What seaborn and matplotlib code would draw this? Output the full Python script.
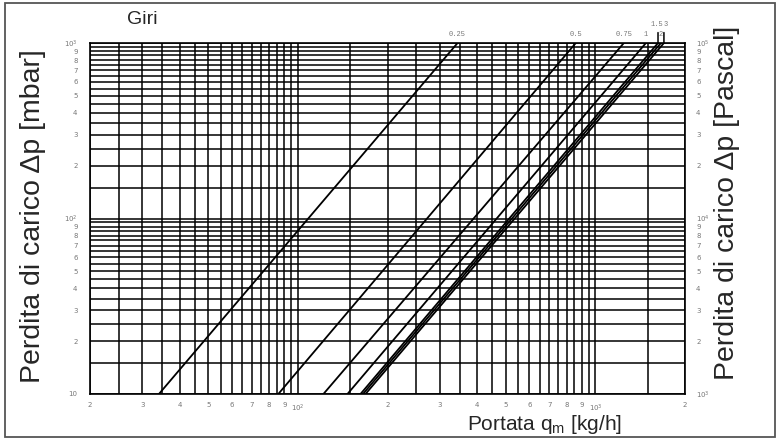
import numpy as np
import pandas as pd
import matplotlib
matplotlib.use('Agg')
import matplotlib.pyplot as plt
import seaborn as sns
from matplotlib.ticker import NullFormatter

sns.set_style('white')
plt.rcParams['font.family'] = ['Liberation Sans', 'DejaVu Sans']

# curves: flow rate read where each curve crosses 10 and 1000 mbar
giri = ['0.25', '0.5', '0.75', '1', '1.5', '2', '3']
q_at_10 = [34.1, 85.9, 121.8, 146.7, 162.3, 165.4, 168.7]
q_at_1000 = [344, 859, 1246, 1478, 1623, 1660, 1699]
dp_ends = [10, 1000]

# grid and tick labels
grid_x = list(range(20, 101, 5)) + [150] + list(range(200, 1001, 50)) + [1500, 2000]
grid_y = list(range(10, 101, 5)) + [150] + list(range(200, 1001, 50))
xtick_pos = [20, 30, 40, 50, 60, 70, 80, 90, 100, 200, 300, 400, 500, 600, 700, 800, 900, 1000, 2000]
xtick_lab = ['2', '3', '4', '5', '6', '7', '8', '9', '$10^2$', '2', '3', '4', '5', '6', '7', '8', '9', '$10^3$', '2']
ytick_pos = [10, 20, 30, 40, 50, 60, 70, 80, 90, 100, 200, 300, 400, 500, 600, 700, 800, 900, 1000]
ytick_lab = ['10', '2', '3', '4', '5', '6', '7', '8', '9', '$10^2$', '2', '3', '4', '5', '6', '7', '8', '9', '$10^3$']
ytick_pa_pos = [v * 100 for v in ytick_pos]
ytick_pa_lab = ['$10^3$', '2', '3', '4', '5', '6', '7', '8', '9', '$10^4$', '2', '3', '4', '5', '6', '7', '8', '9', '$10^5$']

rows = []
for g, a, b in zip(giri, q_at_10, q_at_1000):
    rows.append({'giri': g, 'q': a, 'dp': dp_ends[0]})
    rows.append({'giri': g, 'q': b, 'dp': dp_ends[1]})
df = pd.DataFrame(rows)

fig = plt.figure(figsize=(7.79, 4.41), dpi=100)
ax = fig.add_axes([90 / 779, 47 / 441, 595 / 779, 351 / 441])

sns.lineplot(data=df, x='q', y='dp', hue='giri', palette=['black'] * len(giri),
             legend=False, ax=ax, lw=1.3, sort=False, zorder=3)
ax.set_xscale('log')
ax.set_yscale('log')
ax.set_xlim(20, 2000)
ax.set_ylim(10, 1000)

tick_font = dict(fontsize=5, color='#777777', family='DejaVu Sans')
ax.set_xticks(grid_x, minor=True)
ax.set_yticks(grid_y, minor=True)
ax.set_xticks(xtick_pos)
ax.set_xticklabels(xtick_lab, **tick_font)
ax.set_yticks(ytick_pos)
ax.set_yticklabels(ytick_lab, **tick_font)
ax.xaxis.set_minor_formatter(NullFormatter())
ax.yaxis.set_minor_formatter(NullFormatter())
ax.grid(True, which='both', color='black', lw=1.1)
ax.tick_params(which='both', length=0)
ax.tick_params(axis='x', pad=6)
ax.tick_params(axis='y', pad=9)
ax.set_xlabel('')
ax.set_ylabel('')
for s in ax.spines.values():
    s.set_color('black')
    s.set_linewidth(1.2)

ax2 = ax.twinx()
ax2.set_yscale('log')
ax2.set_ylim(dp_ends[0] * 100, dp_ends[1] * 100)
ax2.set_yticks(ytick_pa_pos)
ax2.set_yticklabels(ytick_pa_lab, **tick_font)
ax2.yaxis.set_minor_formatter(NullFormatter())
ax2.tick_params(which='both', length=0, pad=8)
ax2.grid(False)
for s in ax2.spines.values():
    s.set_visible(False)

# curve labels above the top edge
lab_font = dict(fontsize=5, color='#777777', family='Liberation Mono', ha='center')
for g, q in zip(giri, q_at_1000):
    if g in ('1.5', '3'):
        ax.annotate('', xy=(q, dp_ends[1]), xytext=(0, 7.5), textcoords='offset points',
                    arrowprops=dict(arrowstyle='-', lw=1.1, color='black', shrinkA=0, shrinkB=0),
                    annotation_clip=False)
        ax.annotate(g, xy=(q, dp_ends[1]), xytext=(-1 if g == '1.5' else 1, 12.5),
                    textcoords='offset points', annotation_clip=False, **lab_font)
    else:
        ax.annotate(g, xy=(q, dp_ends[1]), xytext=(0, 5), textcoords='offset points',
                    annotation_clip=False, **lab_font)

fig.text(142 / 779, 1 - 20 / 441, 'Giri', fontsize=14, ha='center', va='center')
fig.text(545 / 779, 1 - 424 / 441, r'Portata q$_\mathregular{m}$ [kg/h]', fontsize=15,
         ha='center', va='center')
fig.text(33 / 779, 1 - 216 / 441, 'Perdita di carico Δp [mbar]', fontsize=20.5,
         rotation=90, ha='center', va='center')
fig.text(727 / 779, 1 - 203 / 441, 'Perdita di carico Δp [Pascal]', fontsize=20.5,
         rotation=90, ha='center', va='center')

fig.add_artist(plt.Rectangle((5 / 779, 4 / 441), 770 / 779, 434 / 441, transform=fig.transFigure,
                             fill=False, ec='#555555', lw=1.3))

fig.savefig('out.png', dpi=100)
